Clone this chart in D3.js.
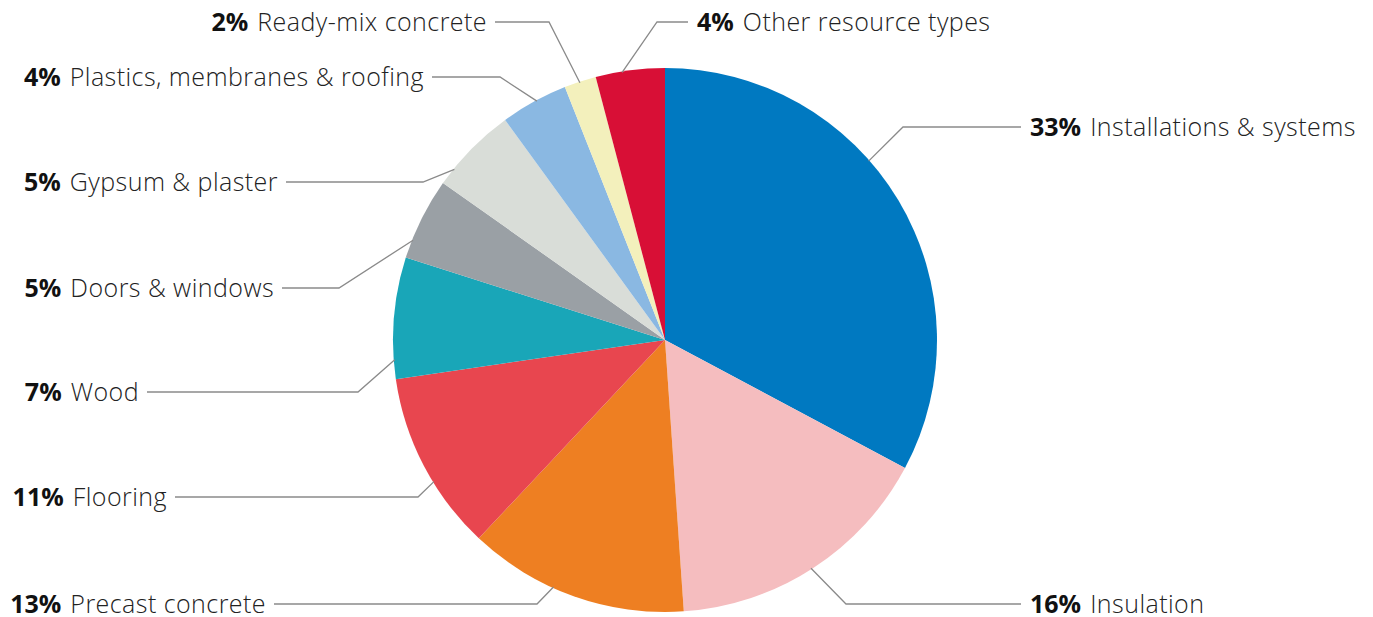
<!DOCTYPE html>
<html>
<head>
<meta charset="utf-8">
<script src="https://cdn.jsdelivr.net/npm/d3@7"></script>
<style>
  body { margin: 0; background: #fff; }
  svg { display: block; }
  text { font-family: "Open Sans", Lato, sans-serif; }
</style>
</head>
<body>
<svg id="chart"></svg>
<script>
// resource types, clockwise from 12 o'clock
var categories = ["Installations & systems", "Insulation", "Precast concrete", "Flooring", "Wood",
                  "Doors & windows", "Gypsum & plaster", "Plastics, membranes & roofing",
                  "Ready-mix concrete", "Other resource types"]
var shares = [32.8, 16.1, 13.1, 10.7, 7.2, 4.9, 5.2, 4.0, 1.9, 4.1]
var colors = ["#0079c1", "#f5bdbf", "#ee7f22", "#e8464f", "#19a6b8",
              "#9aa0a5", "#d9ddd8", "#8ab8e2", "#f3f0bc", "#d80f36"]

// label placement: angle where leader touches pie, label row, elbow x, end of horizontal, side
var leaders = [
  {angle: 48.7, y: 127, elbow: 903, end: 1021, side: "right"},
  {angle: 147.4, y: 604, elbow: 846, end: 1021, side: "right"},
  {angle: 204.3, y: 604, elbow: 537, end: 274, side: "left"},
  {angle: 238.5, y: 497, elbow: 418, end: 175, side: "left"},
  {angle: 265.8, y: 392, elbow: 358, end: 147, side: "left"},
  {angle: 291.6, y: 288, elbow: 339, end: 282, side: "left"},
  {angle: 309, y: 182, elbow: 423, end: 286, side: "left"},
  {angle: 331.8, y: 77, elbow: 500, end: 432, side: "left"},
  {angle: 341.7, y: 22, elbow: 549, end: 495, side: "left"},
  {angle: 350.9, y: 22, elbow: 657, end: 688, side: "right"}
]

var width = 1373, height = 617,
    cx = 665, cy = 340, radius = 272

var svg = d3.select("#chart")
    .attr("width", width)
    .attr("height", height)

var pie = d3.pie().sort(null).value(d => d)
var arc = d3.arc().innerRadius(0).outerRadius(radius)
var pct = d3.format(".0f")

var g = svg.append("g").attr("transform", `translate(${cx},${cy})`)

g.selectAll("path.slice")
    .data(pie(shares))
    .enter().append("path")
    .attr("class", "slice")
    .attr("d", arc)
    .attr("fill", (d, i) => colors[i])

var line = d3.line()

svg.selectAll("path.leader")
    .data(leaders)
    .enter().append("path")
    .attr("class", "leader")
    .attr("d", d => {
        var p = d3.pointRadial(d.angle * Math.PI / 180, radius - 1)
        return line([[cx + p[0], cy + p[1]], [d.elbow, d.y], [d.end, d.y]])
    })
    .style("fill", "none")
    .style("stroke", "#8a8a8a")
    .style("stroke-width", "1.3px")

var label = svg.selectAll("text.label")
    .data(leaders)
    .enter().append("text")
    .attr("class", "label")
    .attr("x", d => d.side == "right" ? d.end + 9 : d.end - 8)
    .attr("y", d => d.y)
    .attr("dy", "0.36em")
    .attr("text-anchor", d => d.side == "right" ? "start" : "end")
    .style("font-size", "25px")

label.append("tspan")
    .style("font-weight", 700)
    .style("fill", "#111")
    .text((d, i) => pct(shares[i]) + "%")

label.append("tspan")
    .attr("dx", 9)
    .style("font-weight", 300)
    .style("fill", "#222")
    .style("letter-spacing", "0.45px")
    .text((d, i) => categories[i])
</script>
</body>
</html>
